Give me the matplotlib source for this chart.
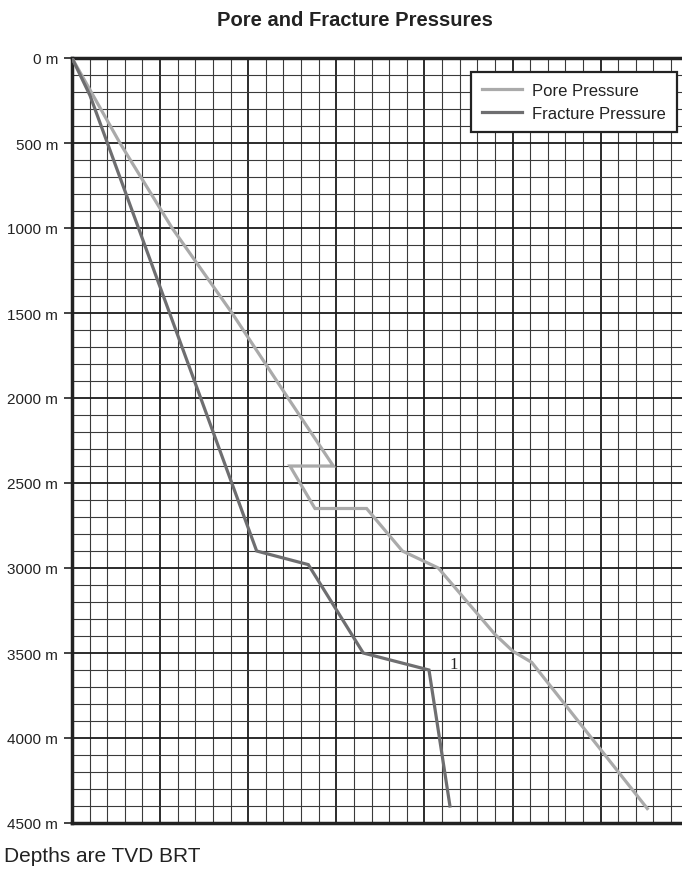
import matplotlib
matplotlib.use("Agg")
import matplotlib.pyplot as plt
from matplotlib.ticker import MultipleLocator

plt.rcParams['font.family'] = ['Liberation Sans', 'DejaVu Sans']

# 讀圖估計的數據 (x 以格為單位, 深度 m)
pore_depth = [0, 500, 1000, 1500, 2000, 2400, 2400, 2650, 2650, 2900, 3000, 3390, 3490, 3555, 4415]
pore_x = [0, 2.72, 5.68, 9.08, 12.26, 14.83, 12.37, 13.79, 16.72, 18.75, 20.79, 24.0, 25.03, 26.09, 32.65]

frac_depth = [0, 220, 2900, 2980, 3500, 3600, 4400]
frac_x = [0, 1.02, 10.48, 13.41, 16.53, 20.26, 21.45]

depth_ticks = [0, 500, 1000, 1500, 2000, 2500, 3000, 3500, 4000, 4500]
depth_labels = [f"{d} m" for d in depth_ticks]

W, H = 682, 870
fig = plt.figure(figsize=(W / 100, H / 100), dpi=100)
ax = fig.add_axes([72 / W, (H - 824) / H, 610 / W, 765 / H])

ax.plot(pore_x, pore_depth, color='#aaaaaa', lw=2.3, label='Pore Pressure', zorder=3,
        solid_joinstyle='miter')
ax.plot(frac_x, frac_depth, color='#6e6e70', lw=2.3, label='Fracture Pressure', zorder=3,
        solid_joinstyle='miter')

ax.set_xlim(0, 610 / 17.62)
ax.set_ylim(4500, 0)

# 格線
ax.xaxis.set_major_locator(MultipleLocator(5))
ax.xaxis.set_minor_locator(MultipleLocator(1))
ax.yaxis.set_major_locator(MultipleLocator(500))
ax.yaxis.set_minor_locator(MultipleLocator(100))
ax.grid(which='minor', color='#3a3a3a', lw=0.8, zorder=1)
ax.grid(which='major', color='#1a1a1a', lw=1.3, zorder=1)
ax.set_axisbelow(True)

ax.set_yticks(depth_ticks)
ax.set_yticklabels(depth_labels, fontsize=11)
ax.tick_params(axis='y', which='major', length=6, width=1.2, color='#222222', pad=4,
               labelcolor='#222222')
ax.tick_params(axis='x', which='both', length=0, labelbottom=False)
ax.tick_params(axis='y', which='minor', length=0)

for s in ['left', 'top', 'bottom']:
    ax.spines[s].set_linewidth(2.5)
    ax.spines[s].set_color('#222222')
ax.spines['right'].set_visible(False)

ax.text(21.68, 3565, '1', family=['Liberation Serif', 'DejaVu Serif'], fontsize=12,
        ha='center', va='center', color='#222222')

leg = ax.legend(loc='upper right', bbox_to_anchor=(677 / W, 1 - 73 / H),
                bbox_transform=fig.transFigure, fontsize=12, fancybox=False,
                framealpha=1, edgecolor='#222222', borderpad=0.65,
                handlelength=2.45, handletextpad=0.6, labelspacing=0.5, borderaxespad=0)
leg.get_frame().set_linewidth(1.6)
for t in leg.get_texts():
    t.set_color('#222222')

fig.text(355 / W, 1 - 20 / H, 'Pore and Fracture Pressures', ha='center', va='center',
         fontsize=14.5, fontweight='bold', color='#222222')
fig.text(4 / W, 1 - 857 / H, 'Depths are TVD BRT', ha='left', va='center',
         fontsize=15, color='#222222')

fig.savefig('out.png', dpi=100)
